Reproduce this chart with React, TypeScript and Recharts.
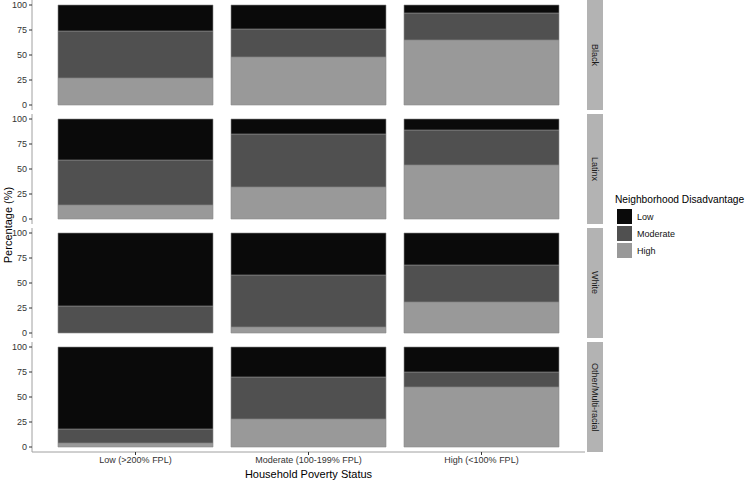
import { BarChart, Bar, XAxis, YAxis } from "recharts";

const categories = ["Low (>200% FPL)", "Moderate (100-199% FPL)", "High (<100% FPL)"];
const groups = ["Black", "Latinx", "White", "Other/Multi-racial"];

// share of households per neighborhood disadvantage level, one row per group
const highShare = [
  [27, 48, 65],
  [14, 32, 54],
  [0, 6, 31],
  [4, 28, 60],
];
const moderateShare = [
  [47, 28, 27],
  [45, 53, 35],
  [27, 52, 37],
  [14, 42, 15],
];
const lowShare = [
  [26, 24, 8],
  [41, 15, 11],
  [73, 42, 32],
  [82, 30, 25],
];

const yTicks = [0, 25, 50, 75, 100];

// legend order (top to bottom) and stacking order is reversed
const series = [
  { key: "low", name: "Low", color: "#0a0a0a" },
  { key: "moderate", name: "Moderate", color: "#505050" },
  { key: "high", name: "High", color: "#999999" },
];

const FONT = "'Liberation Sans', Arial, sans-serif";
const PANEL_H = 110;
const PANEL_STEP = 114;
const CHART_W = 585;
const AXIS_GREY = "#a0a0a0";

function buildRows(g: number) {
  return categories.map((c, i) => ({
    category: c,
    high: highShare[g][i],
    moderate: moderateShare[g][i],
    low: lowShare[g][i],
  }));
}

function Panel({ index }: { index: number }) {
  const last = index === groups.length - 1;
  const data = buildRows(index);
  return (
    <div style={{ position: "absolute", left: 0, top: index * PANEL_STEP }}>
      <BarChart
        width={CHART_W}
        height={last ? PANEL_H + 28 : PANEL_H}
        data={data}
        margin={{ top: 0, right: 0, bottom: 0, left: 0 }}
      >
        <XAxis
          dataKey="category"
          hide={!last}
          height={28}
          padding={{ left: 17, right: 17 }}
          tickSize={3}
          tickMargin={2}
          interval={0}
          tick={{ fontSize: 9, fill: "#333", fontFamily: FONT }}
          tickLine={{ stroke: "#333" }}
          axisLine={{ stroke: AXIS_GREY }}
          label={{
            value: "Household Poverty Status",
            position: "insideBottom",
            offset: 2,
            style: { fontSize: 11, fill: "#000", fontFamily: FONT },
          }}
        />
        <YAxis
          width={32}
          domain={[-5, 105]}
          ticks={yTicks}
          allowDataOverflow
          tickSize={3}
          tickMargin={2}
          tick={{ fontSize: 9, fill: "#333", fontFamily: FONT }}
          tickLine={{ stroke: "#333" }}
          axisLine={{ stroke: AXIS_GREY }}
        />
        {[...series].reverse().map((s) => (
          <Bar
            key={s.key}
            dataKey={s.key}
            name={s.name}
            stackId="a"
            fill={s.color}
            stroke="#8c8c8c"
            strokeWidth={0.6}
            barSize={155}
            isAnimationActive={false}
          />
        ))}
      </BarChart>
      <div
        style={{
          position: "absolute",
          left: 587,
          top: 0,
          width: 16,
          height: PANEL_H,
          background: "#b3b3b3",
          display: "flex",
          alignItems: "center",
          justifyContent: "center",
          writingMode: "vertical-rl",
          fontSize: 9,
          color: "#1a1a1a",
        }}
      >
        {groups[index]}
      </div>
    </div>
  );
}

export default function App() {
  return (
    <div
      style={{
        position: "absolute",
        left: 0,
        top: 0,
        width: 746,
        height: 480,
        overflow: "hidden",
        background: "#fff",
        fontFamily: FONT,
      }}
    >
      {groups.map((g, i) => (
        <Panel key={g} index={i} />
      ))}

      <div
        style={{
          position: "absolute",
          left: -92,
          top: 219,
          width: 200,
          textAlign: "center",
          transform: "rotate(-90deg)",
          fontSize: 11,
          color: "#000",
        }}
      >
        Percentage (%)
      </div>

      <div style={{ position: "absolute", left: 615, top: 194 }}>
        <div style={{ fontSize: 10.2, color: "#000", marginBottom: 3, whiteSpace: "nowrap" }}>
          Neighborhood Disadvantage
        </div>
        {series.map((s) => (
          <div key={s.key} style={{ display: "flex", alignItems: "center", height: 17, marginLeft: 2 }}>
            <div style={{ width: 15, height: 15, background: s.color }} />
            <span style={{ marginLeft: 5, fontSize: 9, color: "#111" }}>{s.name}</span>
          </div>
        ))}
      </div>
    </div>
  );
}
